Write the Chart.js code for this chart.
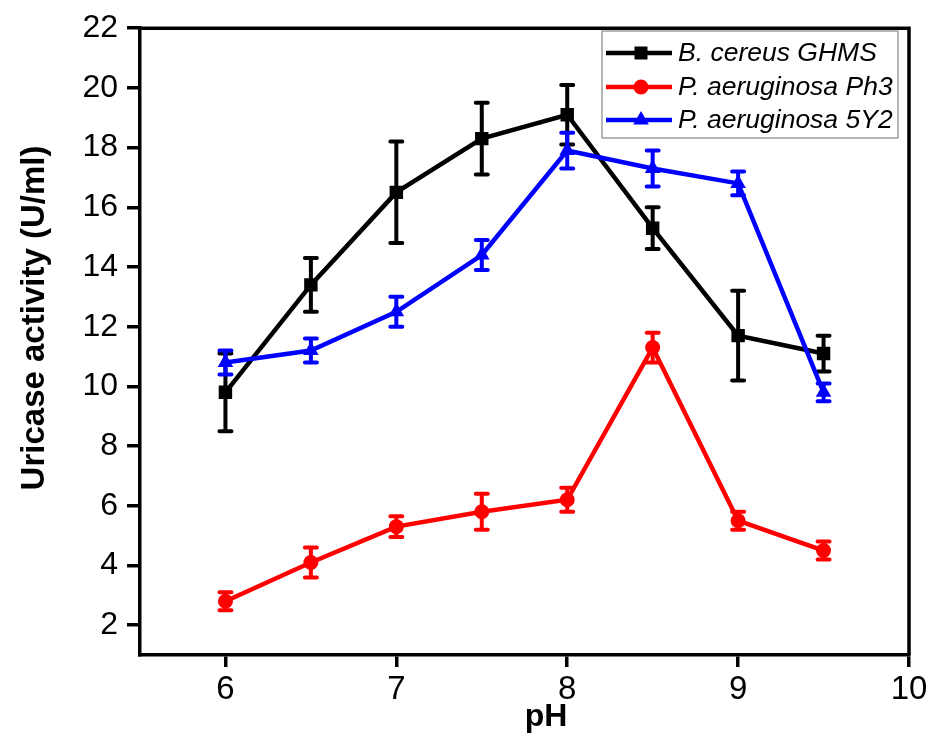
<!DOCTYPE html>
<html>
<head>
<meta charset="utf-8">
<script src="https://cdn.jsdelivr.net/npm/chart.js@4/dist/chart.umd.min.js"></script>
<style>
  html, body { margin: 0; padding: 0; background: #fff; }
  #wrap { width: 936px; height: 738px; }
</style>
</head>
<body>
<div id="wrap"><canvas id="c" width="936" height="738"></canvas></div>
<script>
// ---- data ----
const phValues = [6, 6.5, 7, 7.5, 8, 8.5, 9, 9.5];
const bCereus = [9.8, 13.4, 16.5, 18.3, 19.1, 15.3, 11.7, 11.1];
const bCereusErr = [1.3, 0.9, 1.7, 1.2, 1.0, 0.7, 1.5, 0.6];
const aeruPh3 = [2.8, 4.1, 5.3, 5.8, 6.2, 11.3, 5.5, 4.5];
const aeruPh3Err = [0.3, 0.5, 0.35, 0.6, 0.4, 0.5, 0.3, 0.3];
const aeru5Y2 = [10.8, 11.2, 12.5, 14.4, 17.9, 17.3, 16.8, 9.8];
const aeru5Y2Err = [0.4, 0.4, 0.5, 0.5, 0.6, 0.6, 0.4, 0.3];
const xTicks = [6, 7, 8, 9, 10];
const yTicks = [2, 4, 6, 8, 10, 12, 14, 16, 18, 20, 22];
const seriesNames = ['B. cereus GHMS', 'P. aeruginosa Ph3', 'P. aeruginosa 5Y2'];
const xTitle = 'pH';
const yTitle = 'Uricase activity (U/ml)';

const FONT = '"Liberation Sans", Arial, Helvetica, sans-serif';

function pts(ys) { return phValues.map((x, i) => ({ x: x, y: ys[i] })); }

const errs = [bCereusErr, aeruPh3Err, aeru5Y2Err];

const errorBarPlugin = {
  id: 'errorBars',
  beforeDatasetDraw(chart, args) {
    const ds = chart.data.datasets[args.index];
    const e = errs[args.index];
    if (!e) return;
    const xs = chart.scales.x, ys = chart.scales.y;
    const ctx = chart.ctx;
    ctx.save();
    ctx.strokeStyle = ds.borderColor;
    ctx.lineWidth = 4;
    ctx.lineCap = 'round';
    ds.data.forEach((p, i) => {
      const px = xs.getPixelForValue(p.x);
      const top = ys.getPixelForValue(p.y + e[i]);
      const bot = ys.getPixelForValue(p.y - e[i]);
      ctx.beginPath();
      ctx.moveTo(px, top); ctx.lineTo(px, bot);
      ctx.moveTo(px - 6, top); ctx.lineTo(px + 6, top);
      ctx.moveTo(px - 6, bot); ctx.lineTo(px + 6, bot);
      ctx.stroke();
    });
    ctx.restore();
  }
};

function drawMarker(ctx, style, x, y, color) {
  ctx.fillStyle = color;
  ctx.beginPath();
  if (style === 'rect') {
    ctx.rect(x - 6.5, y - 6.5, 13, 13);
  } else if (style === 'circle') {
    ctx.arc(x, y, 7.5, 0, Math.PI * 2);
  } else {
    const r = 9;
    ctx.moveTo(x, y - r);
    ctx.lineTo(x + r * Math.sin(Math.PI * 2 / 3), y - r * Math.cos(Math.PI * 2 / 3));
    ctx.lineTo(x + r * Math.sin(Math.PI * 4 / 3), y - r * Math.cos(Math.PI * 4 / 3));
    ctx.closePath();
  }
  ctx.fill();
}

const framePlugin = {
  id: 'frame',
  afterDraw(chart) {
    const ctx = chart.ctx;
    const a = chart.chartArea;
    ctx.save();
    // frame (top and right)
    ctx.strokeStyle = '#000';
    ctx.lineWidth = 3.5;
    ctx.beginPath();
    ctx.moveTo(a.left, a.top);
    ctx.lineTo(a.right, a.top);
    ctx.lineTo(a.right, a.bottom);
    ctx.stroke();

    // legend
    const bx = 602, by = 31, bw = 296, bh = 107;
    ctx.fillStyle = '#fff';
    ctx.fillRect(bx, by, bw, bh);
    ctx.strokeStyle = '#888';
    ctx.lineWidth = 1.2;
    ctx.strokeRect(bx, by, bw, bh);
    const rows = [53, 87, 120];
    chart.data.datasets.forEach((ds, i) => {
      const yy = rows[i];
      ctx.strokeStyle = ds.borderColor;
      ctx.lineWidth = 4.5;
      ctx.beginPath();
      ctx.moveTo(606, yy); ctx.lineTo(672, yy);
      ctx.stroke();
      drawMarker(ctx, ds.pointStyle, 641, yy, ds.borderColor);
      ctx.fillStyle = '#000';
      ctx.font = 'italic 26.5px ' + FONT;
      ctx.textAlign = 'left';
      ctx.textBaseline = 'middle';
      ctx.fillText(seriesNames[i], 678, yy + 1);
    });

    // axis titles
    ctx.fillStyle = '#000';
    ctx.font = 'bold 32px ' + FONT;
    ctx.textAlign = 'center';
    ctx.textBaseline = 'alphabetic';
    ctx.fillText(xTitle, 546, 726);

    ctx.save();
    ctx.translate(44, 318);
    ctx.rotate(-Math.PI / 2);
    ctx.font = 'bold 33px ' + FONT;
    ctx.textAlign = 'center';
    ctx.textBaseline = 'alphabetic';
    ctx.fillText(yTitle, 0, 0);
    ctx.restore();
    ctx.restore();
  }
};

const common = { borderWidth: 4.5, pointBorderWidth: 0, showLine: true, tension: 0, fill: false };

new Chart(document.getElementById('c'), {
  type: 'scatter',
  data: {
    datasets: [
      Object.assign({}, common, { label: seriesNames[0], data: pts(bCereus), borderColor: '#000000', backgroundColor: '#000000', pointStyle: 'rect', pointRadius: 9.5, order: 2 }),
      Object.assign({}, common, { label: seriesNames[1], data: pts(aeruPh3), borderColor: '#ff0000', backgroundColor: '#ff0000', pointStyle: 'circle', pointRadius: 7.5, order: 1 }),
      Object.assign({}, common, { label: seriesNames[2], data: pts(aeru5Y2), borderColor: '#0000ff', backgroundColor: '#0000ff', pointStyle: 'triangle', pointRadius: 9, order: 0 })
    ]
  },
  options: {
    responsive: false,
    animation: false,
    devicePixelRatio: 1,
    layout: { padding: { left: 0, top: 24, right: 27, bottom: 0 } },
    plugins: { legend: { display: false }, tooltip: { enabled: false } },
    scales: {
      x: {
        type: 'linear', min: 5.5, max: 10,
        afterBuildTicks(s) { s.ticks = xTicks.map(v => ({ value: v })); },
        afterFit(s) { s.height = 83; },
        grid: { drawOnChartArea: false, drawTicks: true, tickLength: 12, color: '#000', lineWidth: 3.5 },
        border: { display: true, color: '#000', width: 3.5 },
        ticks: { color: '#000', font: { family: FONT, size: 33 }, padding: 3, maxRotation: 0 }
      },
      y: {
        type: 'linear', min: 1, max: 22,
        afterBuildTicks(s) { s.ticks = yTicks.map(v => ({ value: v })); },
        afterFit(s) { s.width = 140; },
        grid: { drawOnChartArea: false, drawTicks: true, tickLength: 13, color: '#000', lineWidth: 3.5 },
        border: { display: true, color: '#000', width: 3.5 },
        ticks: { color: '#000', font: { family: FONT, size: 32 }, padding: 9 }
      }
    }
  },
  plugins: [errorBarPlugin, framePlugin]
});
</script>
</body>
</html>
